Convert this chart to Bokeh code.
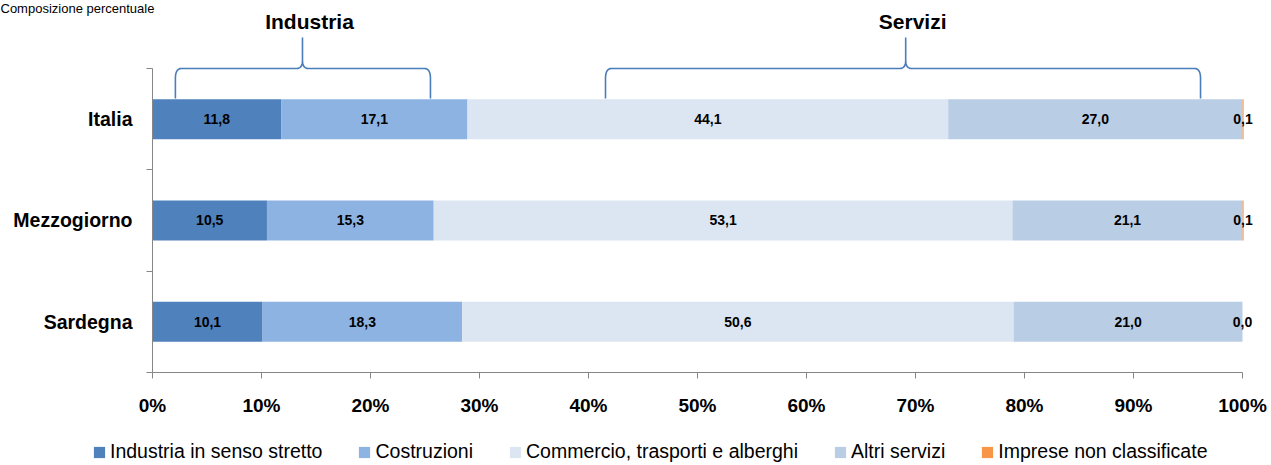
import numpy as np
from bokeh.plotting import figure
from bokeh.models import (ColumnDataSource, Range1d, FixedTicker, LabelSet, Label,
                          Legend, LegendItem)
from bokeh.core.properties import value
from bokeh.embed import file_html
from bokeh.resources import INLINE

# ---------------- data ----------------
categories = ["Italia", "Mezzogiorno", "Sardegna"]
series_names = ["Industria in senso stretto", "Costruzioni",
                "Commercio, trasporti e alberghi", "Altri servizi",
                "Imprese non classificate"]
industria = [11.8, 10.5, 10.1]
costruzioni = [17.1, 15.3, 18.3]
commercio = [44.1, 53.1, 50.6]
altri_servizi = [27.0, 21.1, 21.0]
non_classificate = [0.1, 0.1, 0.0]
x_ticks = [0, 10, 20, 30, 40, 50, 60, 70, 80, 90, 100]
colors = ["#4F81BD", "#8DB3E2", "#DCE6F2", "#B9CDE5", "#F79646"]

series = [industria, costruzioni, commercio, altri_servizi, non_classificate]

FONT = "Liberation Sans"
AX = "#868686"

W, H = 1271, 465
PX = 1090.0      # px per unit of x (0..1)
PY = 101.33      # px per category band
X0_PAGE, Y0_PAGE = 152, 68   # picture position of x=0 and y=3 (top of axis)

n = len(categories)
ypos = [n - i - 0.5 for i in range(n)]

x_start = -X0_PAGE / PX
x_end = (W - X0_PAGE) / PX
y_top = 3 + Y0_PAGE / PY
y_bot = 3 - (H - Y0_PAGE) / PY

p = figure(width=W, height=H,
           x_range=Range1d(x_start, x_end), y_range=Range1d(y_bot, y_top),
           output_backend="svg", toolbar_location=None,
           min_border=0)
p.outline_line_color = None
p.grid.visible = False

bar_h = 40 / PY
left = np.zeros(n)
renderers = []
lab_x, lab_y, lab_t = [], [], []
for name, vals, col in zip(series_names, series, colors):
    v = np.array(vals) / 100.0
    right = left + v
    src = ColumnDataSource(dict(y=ypos, left=left.copy(), right=right.copy()))
    r = p.hbar(y="y", left="left", right="right", height=bar_h, source=src,
               fill_color=col, line_color=None)
    renderers.append(r)
    for k in range(n):
        lab_x.append((left[k] + right[k]) / 2)
        lab_y.append(ypos[k])
        lab_t.append(f"{vals[k]:.1f}".replace(".", ","))
    left = right

lsrc = ColumnDataSource(dict(x=lab_x, y=lab_y, t=lab_t))
p.add_layout(LabelSet(x="x", y="y", text="t", source=lsrc,
                      text_align="center", text_baseline="middle",
                      text_font=value(FONT), text_font_style="bold",
                      text_font_size="14px", text_color="black"))

# ---------------- axes (fixed in the frame) ----------------
xa = p.xaxis[0]
xa.fixed_location = 0
xa.bounds = (0, 1)
xa.ticker = FixedTicker(ticks=[t / 100 for t in x_ticks], minor_ticks=[])
xa.major_label_overrides = {t / 100: f"{t}%" for t in x_ticks}
xa.axis_line_color = AX
xa.major_tick_line_color = AX
xa.major_tick_out = 6
xa.major_tick_in = 0
xa.minor_tick_line_color = None
xa.major_label_text_font = FONT
xa.major_label_text_font_style = "bold"
xa.major_label_text_font_size = "19px"
xa.major_label_text_color = "black"
xa.major_label_standoff = 17

ya = p.yaxis[0]
ya.fixed_location = 0
ya.bounds = (0, 3)
ya.ticker = FixedTicker(ticks=ypos, minor_ticks=[0, 1, 2, 3])
ya.major_label_overrides = {y: c for y, c in zip(ypos, categories)}
ya.axis_line_color = AX
ya.major_tick_line_color = None
ya.major_tick_out = 0
ya.major_tick_in = 0
ya.minor_tick_line_color = AX
ya.minor_tick_out = 6
ya.minor_tick_in = 0
ya.major_label_text_font = FONT
ya.major_label_text_font_style = "bold"
ya.major_label_text_font_size = "19.5px"
ya.major_label_text_color = "black"
ya.major_label_standoff = 14

# ---------------- braces ----------------
def qbez(p0, p1, p2, m=10):
    t = np.linspace(0, 1, m)
    xs = (1 - t) ** 2 * p0[0] + 2 * (1 - t) * t * p1[0] + t ** 2 * p2[0]
    ys = (1 - t) ** 2 * p0[1] + 2 * (1 - t) * t * p1[1] + t ** 2 * p2[1]
    return list(xs), list(ys)

def brace(x0, x1, xm, yb, yh, yt, rx, ry, rxm, rym):
    xs, ys = [x0], [yb]
    a, b = qbez((x0, yh - ry), (x0, yh), (x0 + rx, yh)); xs += a; ys += b
    a, b = qbez((xm - rxm, yh), (xm, yh), (xm, yh + rym)); xs += a; ys += b
    xs.append(xm); ys.append(yt)
    a, b = qbez((xm, yh + rym), (xm, yh), (xm + rxm, yh)); xs += a; ys += b
    a, b = qbez((x1 - rx, yh), (x1, yh), (x1, yh - ry)); xs += a; ys += b
    xs.append(x1); ys.append(yb)
    return xs, ys

px = 1 / PX
py = 1 / PY
yb, yh, yt = 3 - 30 * py, 3.0, 3 + 31 * py
groups = [("Industria", 0.021, 0.255, 0.1376), ("Servizi", 0.4156, 0.9615, 0.691)]
for label, x0, x1, xm in groups:
    xs, ys = brace(x0, x1, xm, yb, yh, yt, 6 * px, 10 * py, 6 * px, 8 * py)
    p.line(xs, ys, line_color="#4A7EBB", line_width=1.6)
    p.add_layout(Label(x=xm + 7 * px, y=3 + 47 * py, text=label,
                       text_align="center", text_baseline="middle",
                       text_font=FONT, text_font_style="bold",
                       text_font_size="21px", text_color="black"))

p.add_layout(Label(x=x_start, y=y_top, text="Composizione percentuale",
                   text_align="left", text_baseline="top",
                   text_font=FONT, text_font_size="13px", text_color="black"))

# ---------------- legend ----------------
legend = Legend(items=[LegendItem(label=nm, renderers=[r])
                       for nm, r in zip(series_names, renderers)],
                orientation="horizontal", location=(92, 2),
                label_text_font=FONT, label_text_font_size="19.5px",
                label_text_color="black", glyph_width=14, glyph_height=14,
                label_standoff=4, spacing=35, padding=0, margin=0,
                border_line_color=None, background_fill_alpha=0,
                label_height=20)
p.add_layout(legend, "center")

open("out.html", "w").write(file_html(p, INLINE))
